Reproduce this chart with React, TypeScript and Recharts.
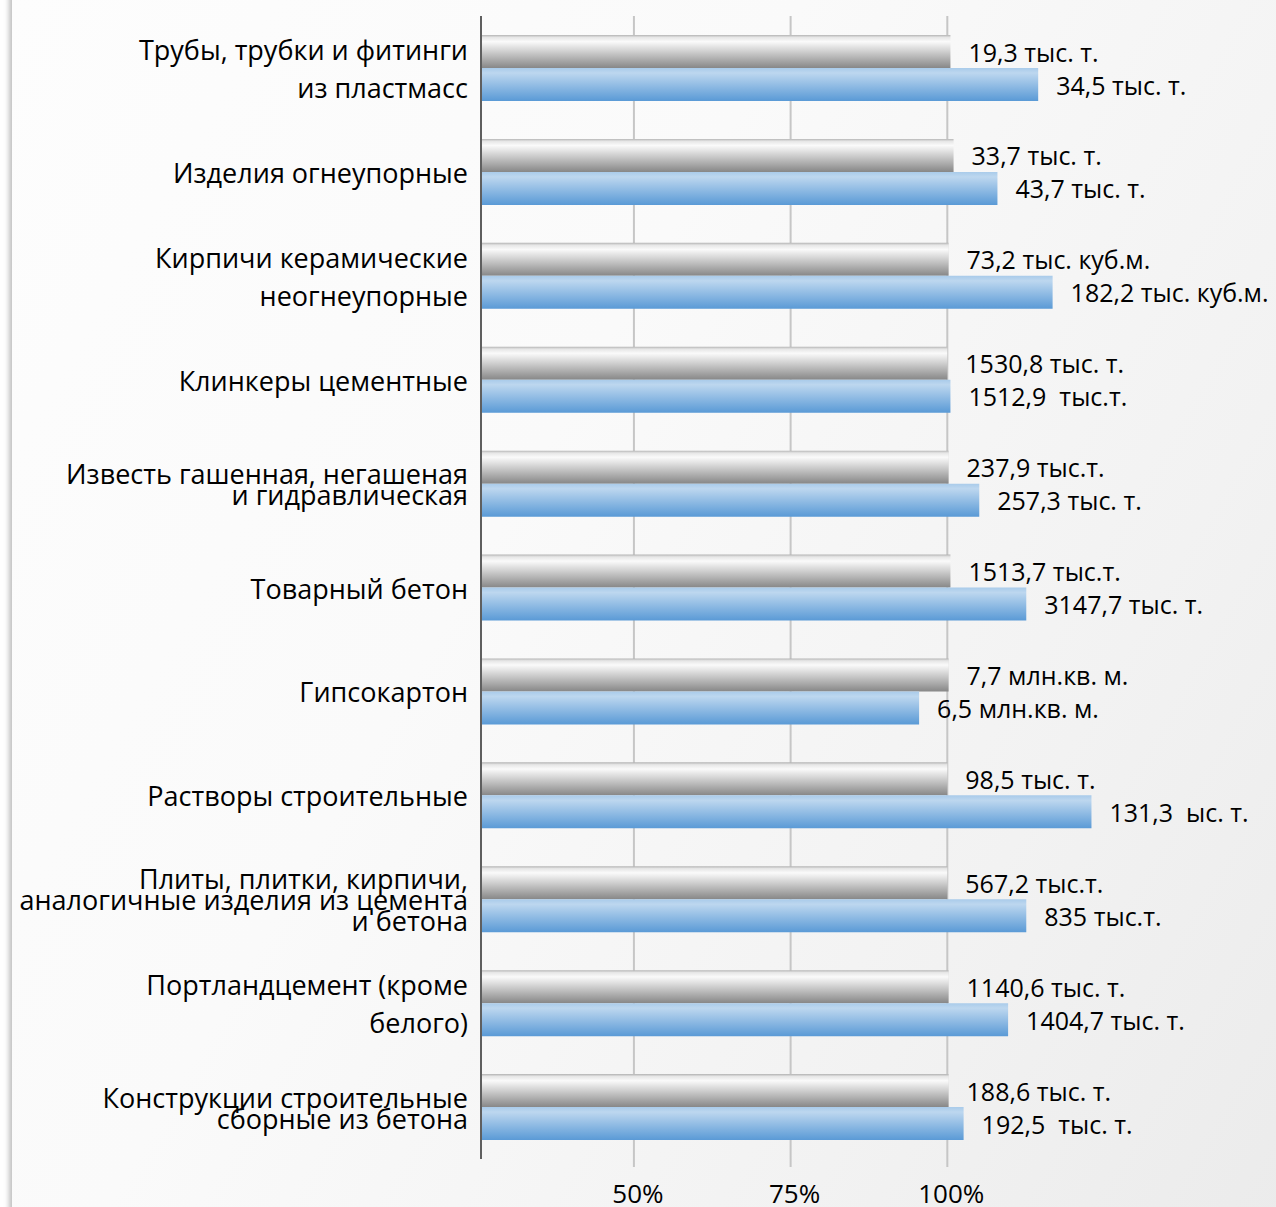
import React from "react"
import { Bar, BarChart, CartesianGrid, LabelList, XAxis, YAxis } from "recharts"

const categories = [
  "Трубы, трубки и фитинги\nиз пластмасс",
  "Изделия огнеупорные",
  "Кирпичи керамические\nнеогнеупорные",
  "Клинкеры цементные",
  "Известь гашенная, негашеная\nи гидравлическая",
  "Товарный бетон",
  "Гипсокартон",
  "Растворы строительные",
  "Плиты, плитки, кирпичи,\nаналогичные изделия из цемента\nи бетона",
  "Портландцемент (кроме\nбелого)",
  "Конструкции строительные\nсборные из бетона",
]

// % of the previous period (grey) and current period (blue)
const prevPct = [100.5, 101, 100.2, 100, 100.2, 100.5, 100.2, 100, 100, 100.2, 100.2]
const currPct = [114.5, 108, 116.8, 100.5, 105.1, 112.6, 95.5, 123, 112.6, 109.7, 102.6]

const prevLabels = [
  "19,3 тыс. т.", "33,7 тыс. т.", "73,2 тыс. куб.м.", "1530,8 тыс. т.", "237,9 тыс.т.",
  "1513,7 тыс.т.", "7,7 млн.кв. м.", "98,5 тыс. т.", "567,2 тыс.т.", "1140,6 тыс. т.", "188,6 тыс. т.",
]
const currLabels = [
  "34,5 тыс. т.", "43,7 тыс. т.", "182,2 тыс. куб.м.", "1512,9  тыс.т.", "257,3 тыс. т.",
  "3147,7 тыс. т.", "6,5 млн.кв. м.", "131,3  ыс. т.", "835 тыс.т.", "1404,7 тыс. т.", "192,5  тыс. т.",
]

const xTicks = [50, 75, 100]
const xDomain: [number, number] = [25.6, 125]

const data = categories.map((name, i) => ({
  name,
  prev: prevPct[i],
  curr: currPct[i],
  prevLabel: prevLabels[i],
  currLabel: currLabels[i],
}))

const font = "'Open Sans', sans-serif"
// rows whose label lines are squeezed together in the original
const tightRows = new Set([4, 8, 10])

function CategoryTick(props: any) {
  const { x, y, payload, index } = props
  const lines = String(payload.value).split("\n")
  const lh = lines.length > 1 && !tightRows.has(index) ? 38 : 21
  const start = y - ((lines.length - 1) * lh) / 2
  return (
    <text x={x} y={start} textAnchor="end" fontFamily={font} fontSize={27} fill="#000" dominantBaseline="central">
      {lines.map((l, i) => (
        <tspan key={i} x={x} y={start + i * lh}>{l}</tspan>
      ))}
    </text>
  )
}

function valueLabel(props: any) {
  const { x, y, width, height, value } = props
  return (
    <text
      x={x + width + 18}
      y={y + height / 2}
      fontFamily={font}
      fontSize={25}
      fill="#000"
      dominantBaseline="central"
      style={{ whiteSpace: "pre" }}
    >
      {value}
    </text>
  )
}

// grid only at the labelled ticks (no line at the domain end)
function gridX({ xAxis, offset }: any) {
  return xTicks.map((t) =>
    xAxis && typeof xAxis.scale === "function"
      ? xAxis.scale(t)
      : offset.left + ((t - xDomain[0]) / (xDomain[1] - xDomain[0])) * offset.width,
  )
}

export default function App() {
  return (
    <div
      style={{
        position: "absolute",
        left: 0,
        top: 0,
        width: 1276,
        height: 1207,
        background: "#fff",
        overflow: "hidden",
      }}
    >
      <div
        style={{
          position: "absolute",
          left: 12,
          top: -10,
          width: 1280,
          height: 1230,
          background: "linear-gradient(120deg, #fdfdfd 0%, #fafafa 40%, #f2f2f2 75%, #ebebeb 100%)",
          boxShadow: "-3px 0 5px rgba(0,0,0,0.25)",
        }}
      />
      <div style={{ position: "absolute", left: 0, top: 0 }}>
        <BarChart
          width={1276}
          height={1207}
          data={data}
          layout="vertical"
          margin={{ top: 16, right: 172, bottom: 0, left: 0 }}
          barSize={33}
          barGap={0}
        >
          <defs>
            <linearGradient id="greyFill" x1="0" y1="0" x2="0" y2="1">
              <stop offset="0%" stopColor="#b4b4b4" />
              <stop offset="7%" stopColor="#e6e6e6" />
              <stop offset="20%" stopColor="#fafafa" />
              <stop offset="100%" stopColor="#878787" />
            </linearGradient>
            <linearGradient id="blueFill" x1="0" y1="0" x2="0" y2="1">
              <stop offset="0%" stopColor="#a9cbea" />
              <stop offset="15%" stopColor="#bdd7ef" />
              <stop offset="100%" stopColor="#5a9ad6" />
            </linearGradient>
          </defs>
          <CartesianGrid
            horizontal={false}
            vertical={true}
            stroke="#c6c6c6"
            strokeWidth={2}
            verticalCoordinatesGenerator={gridX}
          />
          <XAxis
            type="number"
            domain={xDomain}
            ticks={xTicks}
            tickFormatter={(v) => `${v}%`}
            axisLine={false}
            tickLine={{ stroke: "#c6c6c6", strokeWidth: 2 }}
            tickSize={8}
            tickMargin={18}
            height={48}
            tick={{ fontFamily: font, fontSize: 26, fill: "#000", dx: 4 }}
          />
          <YAxis
            type="category"
            dataKey="name"
            width={481}
            axisLine={{ stroke: "#5f5f5f", strokeWidth: 2 }}
            tickLine={false}
            tickSize={0}
            tickMargin={13}
            interval={0}
            tick={<CategoryTick />}
          />
          <Bar dataKey="prev" fill="url(#greyFill)" isAnimationActive={false}>
            <LabelList dataKey="prevLabel" content={valueLabel} />
          </Bar>
          <Bar dataKey="curr" fill="url(#blueFill)" isAnimationActive={false}>
            <LabelList dataKey="currLabel" content={valueLabel} />
          </Bar>
        </BarChart>
      </div>
    </div>
  )
}
